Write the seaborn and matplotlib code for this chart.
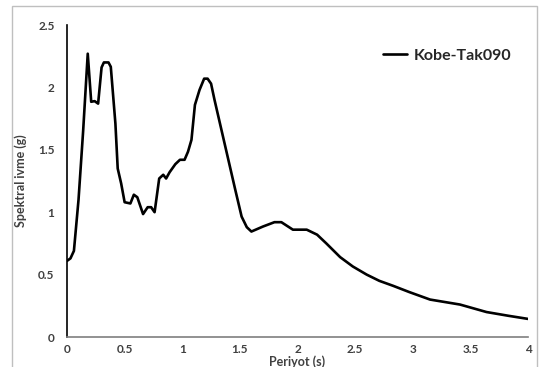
import matplotlib
matplotlib.use("Agg")
import matplotlib.pyplot as plt
import seaborn as sns
import pandas as pd
from matplotlib.patches import Rectangle

period = [0.00, 0.03, 0.06, 0.10, 0.14, 0.18, 0.21, 0.24, 0.27, 0.30, 0.32, 0.36, 0.38,
          0.42, 0.44, 0.47, 0.50, 0.55, 0.58, 0.61, 0.66, 0.70, 0.73, 0.76, 0.80, 0.835,
          0.86, 0.89, 0.94, 0.98, 1.02, 1.05, 1.08, 1.11, 1.15, 1.19, 1.22, 1.25, 1.28,
          1.34, 1.40, 1.46, 1.515, 1.56, 1.60, 1.70, 1.80, 1.86, 1.96, 2.08, 2.17, 2.25,
          2.37, 2.48, 2.60, 2.71, 2.83, 2.97, 3.15, 3.41, 3.64, 3.83, 4.00]
accel = [0.61, 0.63, 0.69, 1.10, 1.65, 2.27, 1.885, 1.89, 1.87, 2.16, 2.20, 2.20, 2.165,
         1.71, 1.35, 1.23, 1.08, 1.07, 1.14, 1.12, 0.985, 1.04, 1.04, 1.00, 1.27, 1.30,
         1.27, 1.32, 1.385, 1.42, 1.42, 1.485, 1.58, 1.86, 1.98, 2.07, 2.07, 2.03, 1.90,
         1.66, 1.42, 1.18, 0.965, 0.88, 0.845, 0.885, 0.92, 0.92, 0.86, 0.86, 0.82, 0.75,
         0.64, 0.565, 0.50, 0.45, 0.41, 0.36, 0.30, 0.26, 0.20, 0.17, 0.145]
series_name = "Kobe-Tak090"
x_ticks = [0, 0.5, 1, 1.5, 2, 2.5, 3, 3.5, 4]
x_tick_labels = ["0", "0.5", "1", "1.5", "2", "2.5", "3", "3.5", "4"]
y_ticks = [0, 0.5, 1, 1.5, 2, 2.5]
y_tick_labels = ["0", "0.5", "1", "1.5", "2", "2.5"]

df = pd.DataFrame({"Periyot": period, "Ivme": accel, "Kayit": series_name})

sns.set_style("white")
plt.rcParams["font.family"] = ["Lato", "DejaVu Sans"]

fig = plt.figure(figsize=(5.45, 3.67), dpi=100)
ax = fig.add_axes([67/545, 1-337/367, (528-67)/545, (337-25)/367])

sns.lineplot(data=df, x="Periyot", y="Ivme", hue="Kayit", palette=["black"],
             linewidth=1.9, ax=ax, sort=False)

ax.set_xlim(0, 4)
ax.set_ylim(0, 2.5)
ax.set_xticks(x_ticks)
ax.set_xticklabels(x_tick_labels)
ax.set_yticks(y_ticks)
ax.set_yticklabels(y_tick_labels)
ax.tick_params(axis="x", length=0, labelsize=8.5, colors="#404040", pad=5)
ax.tick_params(axis="y", length=0, labelsize=8.5, colors="#404040", pad=9)
for lab in ax.get_xticklabels() + ax.get_yticklabels():
    lab.set_fontweight("bold")

for s in ["top", "right"]:
    ax.spines[s].set_visible(False)
ax.spines["left"].set_color("black")
ax.spines["left"].set_linewidth(1.2)
ax.spines["bottom"].set_color("#7f7f7f")
ax.spines["bottom"].set_linewidth(1.2)

ax.set_ylabel("Spektral ivme (g)", fontsize=9, fontweight="bold", color="#404040", labelpad=8)
ax.set_xlabel("Periyot (s)", fontsize=9, fontweight="bold", color="#404040", labelpad=0)

leg = ax.legend(loc="upper left", bbox_to_anchor=(0.655, 0.97), frameon=False,
                fontsize=11.5, handlelength=1.5, handletextpad=0.4)
for t in leg.get_texts():
    t.set_fontweight("bold")
    t.set_color("#262626")

fig.patches.append(Rectangle((12/545, -0.1), (537-12)/545, 1.1 - 6/367,
                             transform=fig.transFigure, fill=False,
                             edgecolor="#bfbfbf", linewidth=1.0, zorder=0))

fig.savefig("out.png", dpi=100)
